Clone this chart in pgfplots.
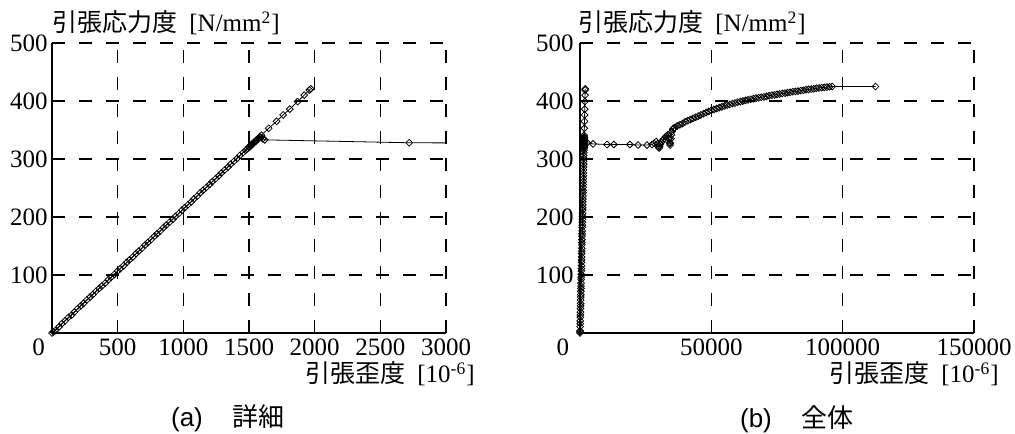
\documentclass[border=0pt]{standalone}
\usepackage{fontspec}
\setmainfont{Liberation Serif}
\newfontfamily\tnr{Liberation Serif}
\newfontfamily\jp{Noto Sans CJK JP}
\newfontfamily\arialf{Liberation Sans}
\usepackage{pgfplots}
\usepackage{pgfplotstable}
\pgfplotsset{compat=1.18}

\pgfplotstableread{
x y
0 0
25 4
55 11
100 21
150 31
195 42
240 51
290 62
335 72
380 81
430 92
475 101
520 111
570 122
615 131
660 141
710 152
755 161
800 171
850 182
895 191
940 201
990 212
1035 221
1080 231
1130 242
1175 251
1220 261
1270 271
1315 281
1360 291
1410 301
1455 311
1500 321
1550 331
1595 341
1650 353
1710 365
1760 376
1810 386
1870 399
1920 410
1960 419
1970 421
}\seriesA

\pgfplotstableread{
x y
10 2
75 16
125 27
170 36
220 47
265 57
310 66
360 77
405 86
450 96
500 107
545 116
590 126
640 137
685 146
730 156
780 167
825 176
870 186
920 196
965 206
1010 216
1060 226
1105 236
1150 246
1200 256
1245 266
1290 276
1340 286
1385 296
1430 306
1475 315
1490 318
1500 320
1510 322
1515 323
1520 325
1528 326
1535 328
1540 329
1548 330
1552 331
1558 333
1565 334
1572 336
1580 338
1590 337
1605 335
1620 333
2720 328
4950 326
10300 325
12900 325
19000 325
22100 324
25500 324
27400 325
28200 327
29000 330
29500 326
29900 321
30100 319
30300 322
30600 326
31000 329
31500 332
32000 335
32500 338
33000 340
33500 342
33900 335
34100 328
34300 324
34400 327
34600 335
34800 342
35000 347
35300 351
35600 353
36000 354
37000 357
38000 359
39000 361
40000 364
41000 366
42000 368
43000 370
44000 372
45000 374
46000 376
47000 378
48000 380
49000 382
50000 384
51000 385.5
52000 387
53000 388.5
54000 390
55000 391.5
56000 393
57000 394
58000 395.5
59000 396.5
60000 398
61000 399
62000 400
63000 401
64000 402
65000 403
66000 404
67000 405
68000 405.5
69000 406.5
70000 407
71000 408
72000 409
73000 410
74000 410.5
75000 411.5
76000 412
77000 413
78000 413.5
79000 414.5
80000 415
81000 416
82000 416.5
83000 417
84000 418
85000 418.5
86000 419.5
87000 420
88000 420.5
89000 421
90000 422
91000 422.5
92000 423
93000 423.5
94000 424
95000 424.5
96000 425
112500 425
}\seriesB

\pgfplotsset{
  myaxis/.style={
    scale only axis, width=197pt, height=145pt,
    anchor=south west,
    axis x line*=bottom, axis y line*=left,
    axis line style={line width=0.65pt, -},
    ymin=0, ymax=500, ytick={100,200,300,400,500},
    yticklabels={100,200,300,400,500},
    scaled x ticks=false, scaled y ticks=false,
    major tick length=0pt,
    grid=major,
    major grid style={line width=0.6pt, black, dash pattern=on 6.5pt off 7pt},
    tick label style={font=\tnr\fontsize{12.5}{14}\selectfont},
    yticklabel style={anchor=east, inner sep=0pt},
    xticklabel style={anchor=center, yshift=-7.3pt},
    clip=true,
  },
  myline/.style={black, line width=0.4pt, no markers},
  mymarks/.style={black, only marks, mark=square, mark size=1.2pt,
    mark options={rotate=45, line width=0.4pt, solid}},
}

\begin{document}
\begin{tikzpicture}
\useasboundingbox (0,0) rectangle (507.5pt,216.5pt);

\begin{axis}[myaxis, at={(26pt,50pt)},
  xmin=0, xmax=3000, xtick={0,500,1000,1500,2000,2500,3000},
  xticklabels={\makebox[0pt][r]{0\hspace*{3.5pt}},500,1000,1500,2000,2500,3000},
  yticklabel style={xshift=-2pt}]
\addplot[myline] table[x=x,y=y] {\seriesA};
\addplot[myline] table[x=x,y=y] {\seriesB};
\addplot[mymarks] table[x=x,y=y] {\seriesA};
\addplot[mymarks, restrict x to domain=-100:3000] table[x=x,y=y] {\seriesB};
\end{axis}

\begin{axis}[myaxis, at={(290pt,50pt)},
  xmin=0, xmax=150000, xtick={0,50000,100000,150000},
  xticklabels={\makebox[0pt][r]{0\hspace*{5.5pt}},50000,100000,150000},
  yticklabel style={xshift=-3pt}]
\addplot[myline] table[x=x,y=y] {\seriesA};
\addplot[myline] table[x=x,y=y] {\seriesB};
\addplot[mymarks] table[x=x,y=y] {\seriesA};
\addplot[mymarks] table[x=x,y=y] {\seriesB};
\end{axis}

\node[anchor=west, inner sep=0pt, font=\tnr\fontsize{12.5}{14}\selectfont] at (26pt,205pt)
  {{\jp 引張応力度}\hspace{6pt}[N/mm\textsuperscript{2}]};
\node[anchor=west, inner sep=0pt, font=\tnr\fontsize{12.5}{14}\selectfont] at (289pt,205pt)
  {{\jp 引張応力度}\hspace{6pt}[N/mm\textsuperscript{2}]};
\node[anchor=east, inner sep=0pt, font=\tnr\fontsize{12.5}{14}\selectfont] at (237.5pt,29.5pt)
  {{\jp 引張歪度}\hspace{6pt}[10\textsuperscript{-6}]};
\node[anchor=east, inner sep=0pt, font=\tnr\fontsize{12.5}{14}\selectfont] at (499.5pt,29.5pt)
  {{\jp 引張歪度}\hspace{6pt}[10\textsuperscript{-6}]};

\node[inner sep=0pt, font=\fontsize{13}{15}\selectfont] at (114pt,7.5pt)
  {{\arialf (a)}\hspace{15pt}{\jp 詳細}};
\node[inner sep=0pt, font=\fontsize{13}{15}\selectfont] at (398.5pt,7pt)
  {{\arialf (b)}\hspace{15pt}{\jp 全体}};
\end{tikzpicture}
\end{document}
